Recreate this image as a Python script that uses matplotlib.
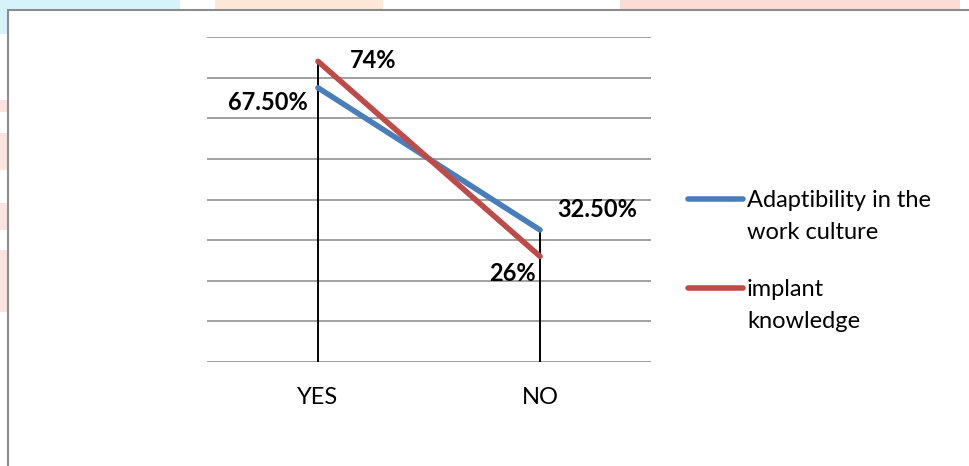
import matplotlib.pyplot as plt
from matplotlib.lines import Line2D
from matplotlib.patches import Rectangle

# data
categories = ['YES', 'NO']
adaptability = [0.675, 0.325]
implant = [0.74, 0.26]
adapt_labels = ['67.50%', '32.50%']
implant_labels = ['74%', '26%']
legend_names = [['Adaptibility in the', 'work culture'], ['implant', 'knowledge']]

W, H = 969, 466
fig = plt.figure(figsize=(W / 100, H / 100), dpi=100)
plt.rcParams['font.family'] = ['Lato', 'DejaVu Sans']
FS = 17

# faint watermark colours peeking out round the chart frame
def px_rect(x0, y0, x1, y1, color):
    fig.add_artist(Rectangle((x0 / W, 1 - y1 / H), (x1 - x0) / W, (y1 - y0) / H,
                             transform=fig.transFigure, color=color, lw=0, zorder=0))

px_rect(0, 0, 180, 10, '#d6f3fb')
px_rect(0, 0, 8, 34, '#d6f3fb')
px_rect(215, 0, 383, 10, '#fde8d8')
px_rect(620, 0, 960, 10, '#fddcd6')
for y0, y1 in [(100, 112), (133, 170), (203, 230), (250, 312)]:
    px_rect(0, y0, 7, y1, '#fde2e0')

# chart frame
fig.add_artist(Rectangle((8 / W, -0.1), 1.2, 1 - 10 / H + 0.1, transform=fig.transFigure,
                         fill=False, edgecolor='#8c8c8c', lw=1.5, zorder=1))

ax = fig.add_axes([207 / W, 1 - 362 / H, 444 / W, 325 / H])
ax.set_facecolor('none')
x = list(range(len(categories)))

ax.set_xlim(-0.5, 1.5)
ax.set_ylim(0, 0.8)
for g in [i / 10 for i in range(9)]:
    ax.axhline(g, color='#9a9a9a', lw=1.3, zorder=1)

# drop lines from the highest point down to the axis
for xi, a, b in zip(x, adaptability, implant):
    ax.plot([xi, xi], [0, max(a, b)], color='black', lw=1.4, zorder=2)

ax.plot(x, adaptability, color='#4a7ebb', lw=4, solid_capstyle='round', zorder=3)
ax.plot(x, implant, color='#be4b48', lw=4, solid_capstyle='round', zorder=4)

lab_kw = dict(textcoords='offset pixels', fontsize=FS, fontweight='bold', va='center')
ax.annotate(implant_labels[0], (x[0], implant[0]), xytext=(55, 1), ha='center', **lab_kw)
ax.annotate(adapt_labels[0], (x[0], adaptability[0]), xytext=(-10, -15), ha='right', **lab_kw)
ax.annotate(adapt_labels[1], (x[1], adaptability[1]), xytext=(57, 20), ha='center', **lab_kw)
ax.annotate(implant_labels[1], (x[1], implant[1]), xytext=(-28, -17), ha='center', **lab_kw)

ax.set_xticks(x)
ax.set_xticklabels(categories, fontsize=FS)
ax.tick_params(axis='x', length=0, pad=18)
ax.set_yticks([])
for s in ax.spines.values():
    s.set_visible(False)

# legend, handles level with the first line of each label
legend_colors = ['#4a7ebb', '#be4b48']
legend_y = [199, 288]
for color, lines, yp in zip(legend_colors, legend_names, legend_y):
    fig.add_artist(Line2D([688 / W, 743 / W], [1 - yp / H] * 2, transform=fig.transFigure,
                          color=color, lw=4, solid_capstyle='round'))
    for i, line in enumerate(lines):
        fig.text(747 / W, 1 - (yp + 8 + 32 * i) / H, line, fontsize=FS,
                 va='baseline', ha='left')

fig.savefig('out.png', dpi=100)
